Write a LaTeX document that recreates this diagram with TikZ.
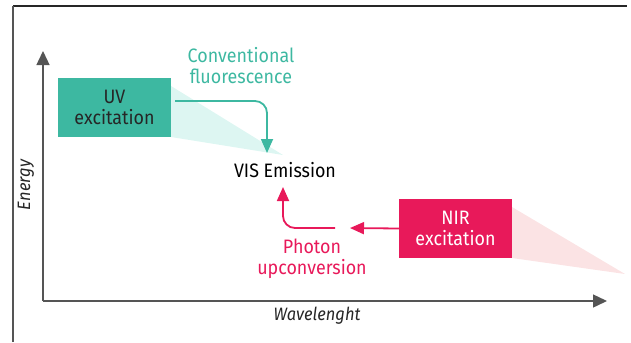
\documentclass[tikz,border=0pt]{standalone}
\usepackage{fontspec}
\setmainfont{Fira Sans}[FakeStretch=0.92]
\usetikzlibrary{arrows.meta}
\definecolor{teal1}{HTML}{3DB8A1}
\definecolor{tealL}{HTML}{DDF6F2}
\definecolor{red1}{HTML}{E8195A}
\definecolor{pinkL}{HTML}{FBE3E4}
\definecolor{axg}{HTML}{555555}
\tikzset{
  box/.style={minimum width=113bp, minimum height=59bp, inner sep=0pt, align=center, font=\fontsize{19.5}{21}\selectfont},
  lbl/.style={align=center, font=\fontsize{19.5}{21}\selectfont, inner sep=0pt},
  axlbl/.style={font=\fontsize{18}{20}\selectfont\itshape, text=black!85},
  axis/.style={draw=axg, line width=1.4bp, -{Triangle[length=14bp,width=13bp]}},
  flow/.style={line width=1.8bp, rounded corners=12bp, -{Triangle[length=14bp,width=12bp]}},
}
\begin{document}
\begin{tikzpicture}[x=1bp,y=-1bp]
\useasboundingbox (0,0) rectangle (631,342);
% frame
\draw[line width=1.5bp, black!85] (13,6) coordinate (ftl) -- (627,6) coordinate (ftr);
\draw[line width=1.5bp, axg] (13,342) coordinate (fl) -- (ftl);
% triangles
\fill[tealL] (171,86) -- (283,155) -- (171,137) -- cycle;
\fill[pinkL] (512,207) -- (625,274) -- (512,258) -- cycle;
% axes
\coordinate (O) at (43,301);
\coordinate (Ytop) at (43,51);
\coordinate (Xend) at (607,301);
\draw[axis] (O) -- (Ytop);
\draw[axis] (O) -- (Xend);
\node[rotate=90, axlbl] (ylab) at (26,185) {Energy};
\node[axlbl] (xlab) at (317,316) {Wavelenght};
% boxes
\node[box, fill=teal1, text=black!85] (uv) at (114.5,107.5) {UV\\excitation};
\node[box, fill=red1, text=white] (nir) at (455.5,228.5) {NIR\\excitation};
\node[lbl, text=black] (vis) at (285,170) {VIS Emission};
\node[lbl, text=teal1] (conv) at (241,65.5) {Conventional\\fluorescence};
\node[lbl, text=red1] (phot) at (312,259) {Photon\\upconversion};
% arrows
\coordinate (gs) at (175,101);
\coordinate (ge) at (267,153);
\draw[flow, draw=teal1] (gs) -- (267,101) -- (ge);
\coordinate (rs) at (335,228);
\coordinate (re) at (283,187);
\draw[flow, draw=red1] (rs) -- (283,228) -- (re);
\coordinate (re2) at (350,228);
\draw[line width=1.8bp, draw=red1, -{Triangle[length=14bp,width=12bp]}] (nir.west) -- (re2);
\end{tikzpicture}
\end{document}
